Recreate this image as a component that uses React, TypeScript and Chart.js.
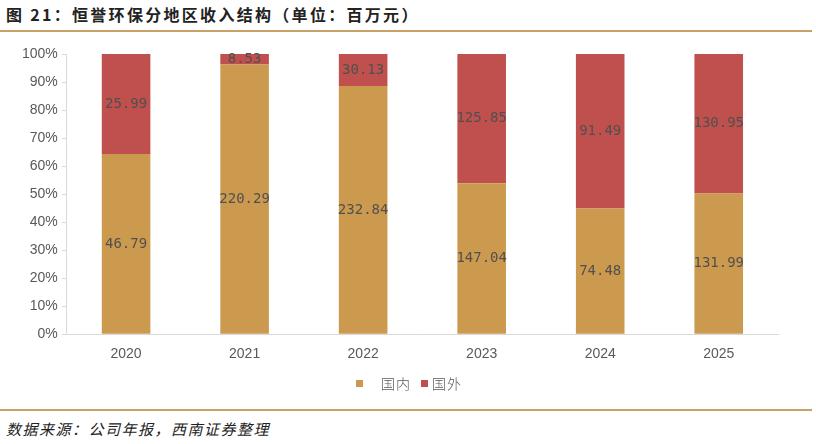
import React, { useEffect, useRef } from "react";
import { Chart, registerables } from "chart.js";

Chart.register(...registerables);

const years = ["2020", "2021", "2022", "2023", "2024", "2025"];
const domestic = [46.79, 220.29, 232.84, 147.04, 74.48, 131.99];
const overseas = [25.99, 8.53, 30.13, 125.85, 91.49, 130.95];
const yTicks = [0, 10, 20, 30, 40, 50, 60, 70, 80, 90, 100];
const seriesNames = ["国内", "国外"];

const GOLD = "#CC9A4E";
const RED = "#C0504D";

const labelPlugin = {
  id: "segLabels",
  afterDatasetsDraw(chart: any) {
    const ctx = chart.ctx;
    ctx.save();
    ctx.font = "14px 'DejaVu Sans Mono', monospace";
    ctx.fillStyle = "#505050";
    ctx.textAlign = "center";
    ctx.textBaseline = "middle";
    chart.data.datasets.forEach((ds: any, di: number) => {
      const meta = chart.getDatasetMeta(di);
      meta.data.forEach((bar: any, i: number) => {
        const raw = ds.rawValues[i];
        const yc = (bar.y + bar.base) / 2;
        ctx.fillText(raw.toFixed(2), bar.x, yc);
      });
    });
    ctx.restore();
  },
};

export default function App() {
  const ref = useRef<HTMLCanvasElement>(null);
  useEffect(() => {
    document.body.style.margin = "0";
    const totals = domestic.map((d, i) => d + overseas[i]);
    const chart = new Chart(ref.current!, {
      type: "bar",
      data: {
        labels: years,
        datasets: [
          {
            label: seriesNames[0],
            data: domestic.map((d, i) => (d / totals[i]) * 100),
            rawValues: domestic,
            backgroundColor: GOLD,
            barPercentage: 0.82,
            categoryPercentage: 0.5,
          } as any,
          {
            label: seriesNames[1],
            data: overseas.map((d, i) => (d / totals[i]) * 100),
            rawValues: overseas,
            backgroundColor: RED,
            barPercentage: 0.82,
            categoryPercentage: 0.5,
          } as any,
        ],
      },
      options: {
        animation: false,
        responsive: false,
        maintainAspectRatio: false,
        layout: { padding: { left: 18, right: 38, top: 18, bottom: 7 } },
        plugins: {
          legend: { display: false },
          tooltip: { enabled: false },
        },
        scales: {
          x: {
            stacked: true,
            grid: { drawOnChartArea: false, drawTicks: false },
            border: { color: "#d9d9d9" },
            ticks: {
              color: "#595959",
              padding: 12,
              font: { size: 14, family: "'Liberation Sans'" },
            },
          },
          y: {
            stacked: true,
            min: 0,
            max: 100,
            afterBuildTicks: (axis: any) => {
              axis.ticks = yTicks.map((v) => ({ value: v }));
            },
            grid: { drawOnChartArea: false, drawTicks: true, tickLength: 5, color: "#d9d9d9" },
            border: { color: "#d9d9d9" },
            ticks: {
              color: "#595959",
              padding: 4,
              font: { size: 14, family: "'Liberation Sans'" },
              callback: (v: any) => v + "%",
            },
          },
        },
      },
      plugins: [labelPlugin],
    });
    return () => chart.destroy();
  }, []);

  const legendText: React.CSSProperties = {
    position: "absolute",
    top: 374,
    fontFamily: "'Noto Sans CJK SC', sans-serif",
    fontSize: 14,
    fontWeight: 300,
    color: "#595959",
    letterSpacing: "1px",
    lineHeight: "18px",
    whiteSpace: "nowrap",
  };

  return (
    <div style={{ position: "relative", width: 816, height: 444, background: "#fff", overflow: "hidden" }}>
      <div
        style={{
          position: "absolute",
          left: 6,
          top: 2,
          fontFamily: "'Noto Sans CJK SC', sans-serif",
          fontWeight: "bold",
          fontSize: 16,
          letterSpacing: "2.3px",
          color: "#222",
          whiteSpace: "nowrap",
        }}
      >
        图 21：恒誉环保分地区收入结构（单位：百万元）
      </div>
      <div style={{ position: "absolute", left: 0, top: 30, width: 812, height: 2, background: "#C9A06A" }} />
      <canvas ref={ref} width={816} height={346} style={{ position: "absolute", left: 0, top: 36 }} />
      <div style={{ position: "absolute", left: 356, top: 380, width: 7, height: 7, background: GOLD }} />
      <div style={{ ...legendText, left: 381 }}>{seriesNames[0]}</div>
      <div style={{ position: "absolute", left: 421, top: 380, width: 7, height: 7, background: RED }} />
      <div style={{ ...legendText, left: 432 }}>{seriesNames[1]}</div>
      <div style={{ position: "absolute", left: 0, top: 409, width: 812, height: 2, background: "#C9A06A" }} />
      <div
        style={{
          position: "absolute",
          left: 6,
          top: 418,
          fontFamily: "'Noto Sans CJK SC', sans-serif",
          fontStyle: "italic",
          fontSize: 15,
          letterSpacing: "1.5px",
          color: "#222",
          whiteSpace: "nowrap",
        }}
      >
        数据来源：公司年报，西南证券整理
      </div>
    </div>
  );
}
